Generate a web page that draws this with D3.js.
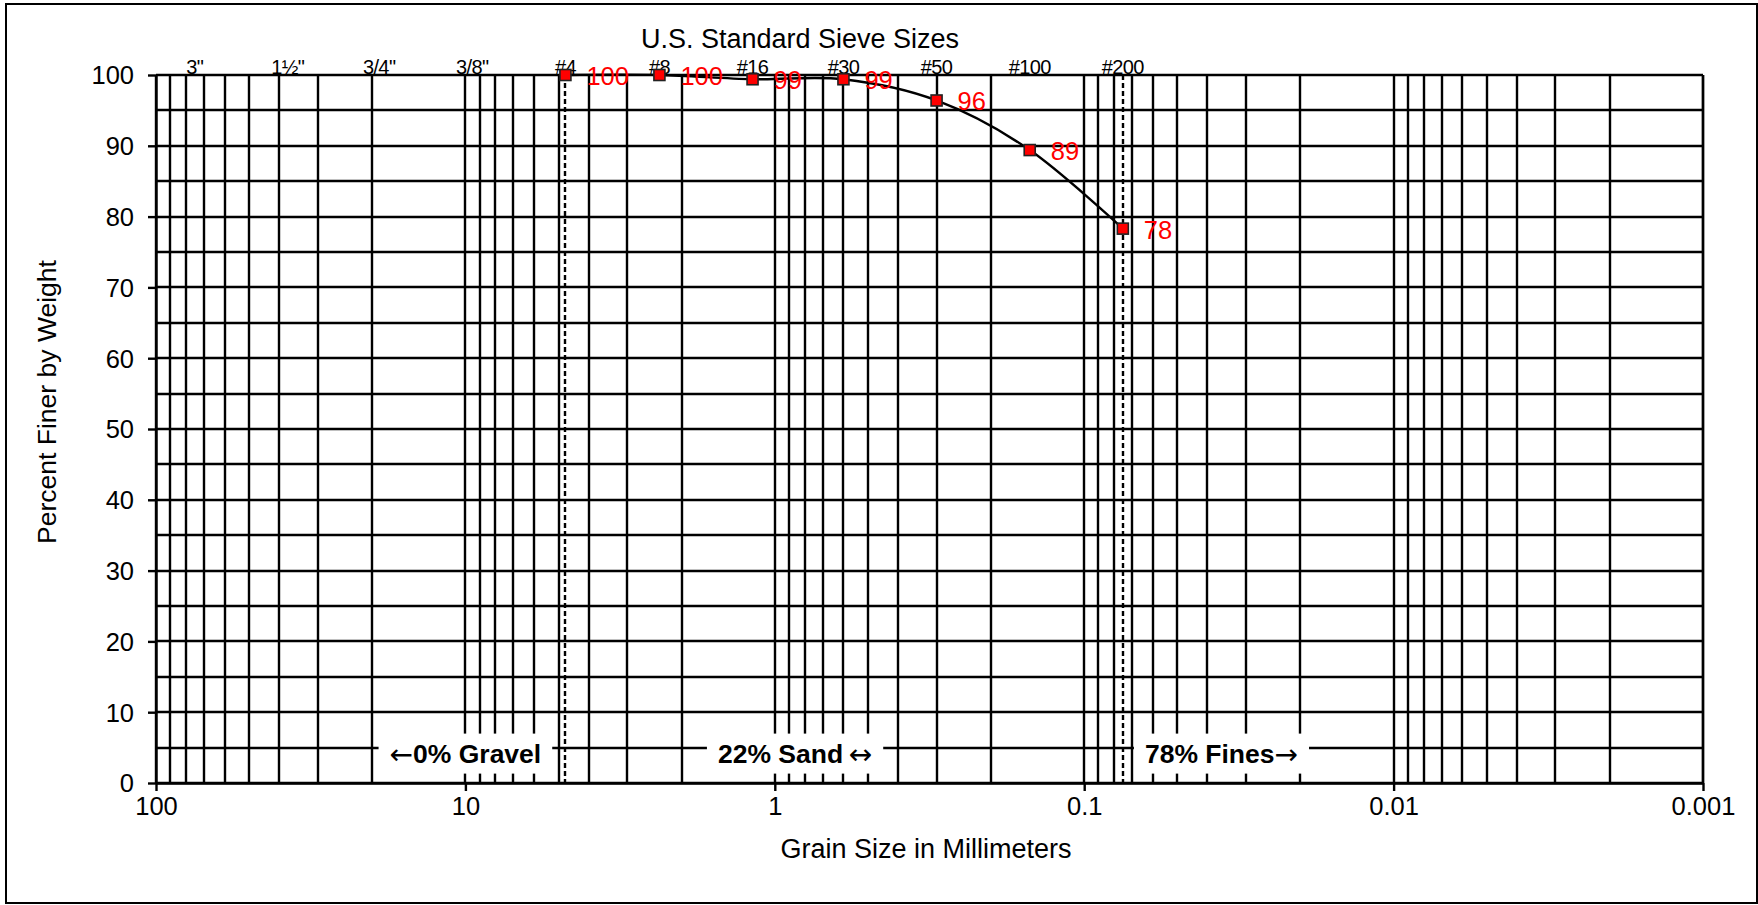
<!DOCTYPE html>
<html>
<head>
<meta charset="utf-8">
<script src="https://cdn.jsdelivr.net/npm/d3@7"></script>
<style>
  html, body { margin: 0; padding: 0; background: #fff; }
  svg { display: block; font-family: "Liberation Sans", Arial, Helvetica, sans-serif; }
</style>
</head>
<body>
<svg id="chart" width="1758" height="905"></svg>
<script>
// ---- Sieve analysis results ----
const sieveNames   = ["#4", "#8", "#16", "#30", "#50", "#100", "#200"];
const sieveSizesMm = [4.75, 2.36, 1.18, 0.6, 0.3, 0.15, 0.075];
const percentFiner = [100, 100, 99.4, 99.4, 96.4, 89.4, 78.3];

// ---- Standard sieve openings marked along the top edge ----
const topSieveLabels  = ['3"', '1½"', '3/4"', '3/8"', "#4", "#8", "#16", "#30", "#50", "#100", "#200"];
const topSieveSizesMm = [75, 37.5, 19, 9.5, 4.75, 2.36, 1.18, 0.6, 0.3, 0.15, 0.075];

// ---- Axis ticks ----
const xTickValues = [100, 10, 1, 0.1, 0.01, 0.001];
const xTickLabels = ["100", "10", "1", "0.1", "0.01", "0.001"];
const yTickValues = [0, 10, 20, 30, 40, 50, 60, 70, 80, 90, 100];
const yTickLabels = ["0", "10", "20", "30", "40", "50", "60", "70", "80", "90", "100"];
const yGridValues = [0, 5, 10, 15, 20, 25, 30, 35, 40, 45, 50, 55, 60, 65, 70, 75, 80, 85, 90, 95, 100];

// ---- Gravel / sand / fines boundaries (#4 and #200 sieves) ----
const boundarySizesMm = [4.75, 0.075];

// ---- Gradation summary: [leading arrow, bold text, trailing arrow] ----
const fractionLabels   = [["←", "0% Gravel", ""], ["", "22% Sand", "\u2009↔"], ["", "78% Fines", "→"]];
const fractionAnchorMm = [10, 0.86, 0.036];

// ---- Titles ----
const topTitle   = "U.S. Standard Sieve Sizes";
const xAxisTitle = "Grain Size in Millimeters";
const yAxisTitle = "Percent Finer by Weight";

// ---------------------------------------------------------------
const W = 1758, H = 905;
const plot = { left: 156, right: 1703, top: 75, bottom: 783 };

const svg = d3.select("#chart");

// outer frame
svg.append("rect")
  .attr("x", 6).attr("y", 4)
  .attr("width", W - 7).attr("height", H - 6)
  .attr("fill", "none").attr("stroke", "#000").attr("stroke-width", 2);

const x = d3.scaleLog().domain([100, 0.001]).range([plot.left, plot.right]);
const y = d3.scaleLinear().domain([0, 100]).range([plot.bottom, plot.top]);
const px = v => Math.round(x(v));
const py = v => Math.round(y(v));

// vertical grid: 1..9 x every decade between 0.001 and 100 mm
const xGridValues = [];
d3.range(-3, 2).forEach(k => {
  d3.range(1, 10).forEach(m => xGridValues.push(+(m * Math.pow(10, k)).toPrecision(3)));
});
xGridValues.push(100);

const grid = svg.append("g").attr("stroke", "#000").attr("stroke-width", 2.4);
grid.selectAll("line.v").data(xGridValues).join("line")
  .attr("class", "v")
  .attr("x1", d => px(d)).attr("x2", d => px(d))
  .attr("y1", plot.top).attr("y2", plot.bottom);
grid.selectAll("line.h").data(yGridValues).join("line")
  .attr("class", "h")
  .attr("x1", plot.left).attr("x2", plot.right)
  .attr("y1", d => py(d)).attr("y2", d => py(d));

// dashed boundary lines at #4 and #200
svg.append("g").selectAll("line").data(boundarySizesMm).join("line")
  .attr("x1", d => px(d)).attr("x2", d => px(d))
  .attr("y1", plot.top).attr("y2", plot.bottom)
  .attr("stroke", "#000").attr("stroke-width", 2.4)
  .attr("stroke-dasharray", "5,3");

// axes
const xAxis = d3.axisBottom(x)
  .tickValues(xTickValues)
  .tickFormat((d, i) => xTickLabels[i])
  .tickSizeInner(8).tickSizeOuter(0).tickPadding(6);
const gx = svg.append("g").attr("transform", `translate(0,${plot.bottom})`).call(xAxis);

const yAxis = d3.axisLeft(y)
  .tickValues(yTickValues)
  .tickFormat((d, i) => yTickLabels[i])
  .tickSizeInner(8).tickSizeOuter(0).tickPadding(14);
const gy = svg.append("g").attr("transform", `translate(${plot.left},0)`).call(yAxis);

[gx, gy].forEach(g => {
  g.selectAll(".domain").attr("stroke", "#000").attr("stroke-width", 2.4);
  g.selectAll(".tick line").attr("stroke", "#000").attr("stroke-width", 2.4);
  g.selectAll(".tick text")
    .attr("fill", "#000")
    .style("font-family", '"Liberation Sans", Arial, sans-serif')
    .style("font-size", "25.5px");
});
gx.selectAll(".tick text").attr("dy", "0.71em");
gy.selectAll(".tick text").attr("dy", "0.35em");

// right edge of the plot area
svg.append("line")
  .attr("x1", plot.right).attr("x2", plot.right)
  .attr("y1", plot.top).attr("y2", plot.bottom)
  .attr("stroke", "#000").attr("stroke-width", 2.4);

// gradation fraction callouts (white boxes over the grid)
const fr = svg.append("g");
fractionLabels.forEach((parts, i) => {
  const cx = x(fractionAnchorMm[i]);
  const cy = y(5) + 6;
  const box = fr.append("rect").attr("fill", "#fff");
  const t = fr.append("text")
    .attr("x", cx).attr("y", cy)
    .attr("text-anchor", "middle")
    .attr("dominant-baseline", "central")
    .attr("fill", "#000");
  if (parts[0]) t.append("tspan").style("font-size", "28px").style("font-family", "DejaVu Sans").style("font-weight", "normal").text(parts[0]);
  t.append("tspan").style("font-size", "26.5px").style("font-weight", "bold").text(parts[1]);
  if (parts[2]) t.append("tspan").style("font-size", "28px").style("font-family", "DejaVu Sans").style("font-weight", "normal").text(parts[2]);
  const bb = t.node().getBBox();
  box.attr("x", bb.x - 11).attr("width", bb.width + 22)
     .attr("y", cy - 20).attr("height", 40);
});

// sieve labels along the top
svg.append("g").selectAll("text").data(topSieveLabels).join("text")
  .attr("x", (d, i) => x(topSieveSizesMm[i]))
  .attr("y", plot.top - 1)
  .attr("text-anchor", "middle")
  .style("font-size", "20px")
  .style("letter-spacing", "-0.6px")
  .attr("fill", "#000")
  .text(d => d);

// top title
svg.append("text")
  .attr("x", 800).attr("y", 39)
  .attr("text-anchor", "middle").attr("dominant-baseline", "central")
  .style("font-size", "27px").attr("fill", "#000")
  .text(topTitle);

// axis titles
svg.append("text")
  .attr("x", 926).attr("y", 849)
  .attr("text-anchor", "middle").attr("dominant-baseline", "central")
  .style("font-size", "27px").attr("fill", "#000")
  .text(xAxisTitle);

svg.append("text")
  .attr("transform", `translate(47,${(plot.top + plot.bottom) / 2 - 27}) rotate(-90)`)
  .attr("text-anchor", "middle").attr("dominant-baseline", "central")
  .style("font-size", "26.5px").attr("fill", "#000")
  .text(yAxisTitle);

// gradation curve
const pts = sieveSizesMm.map((s, i) => [x(s), y(percentFiner[i])]);
svg.append("path")
  .attr("d", d3.line().curve(d3.curveCatmullRom.alpha(0))(pts))
  .attr("fill", "none").attr("stroke", "#000").attr("stroke-width", 2.4);

// markers
const ms = 11;
svg.append("g").selectAll("rect").data(pts).join("rect")
  .attr("x", d => d[0] - ms / 2).attr("y", d => d[1] - ms / 2)
  .attr("width", ms).attr("height", ms)
  .attr("fill", "#ff0000").attr("stroke", "#222").attr("stroke-width", 1.6);

// value labels
svg.append("g").selectAll("text").data(percentFiner).join("text")
  .attr("x", (d, i) => pts[i][0] + 21)
  .attr("y", (d, i) => pts[i][1] + 1)
  .attr("dominant-baseline", "central")
  .style("font-size", "25.5px")
  .attr("fill", "#ff0000")
  .text(d => d3.format(".0f")(d));
</script>
</body>
</html>
